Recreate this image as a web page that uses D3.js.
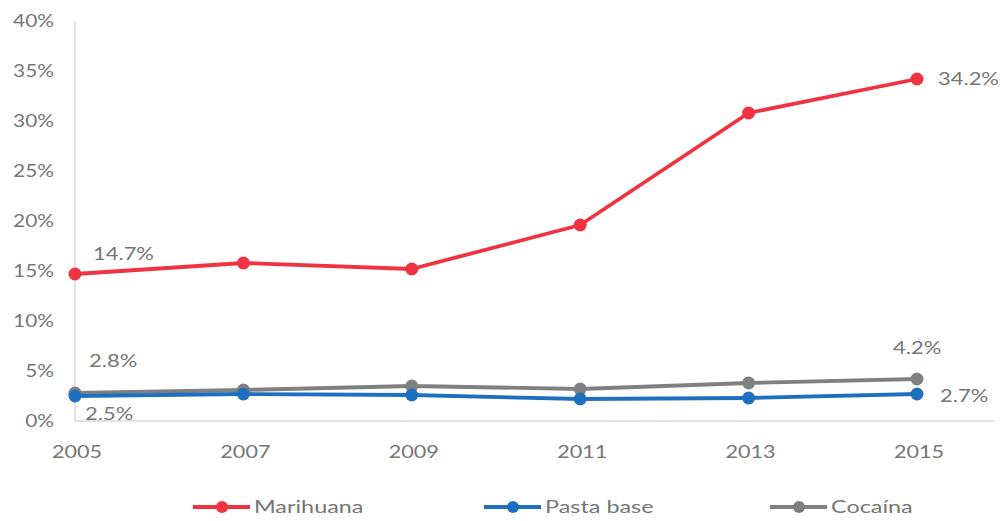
<!DOCTYPE html>
<html>
<head>
<meta charset="utf-8">
<script src="https://cdn.jsdelivr.net/npm/d3@7"></script>
<style>
  html, body { margin: 0; padding: 0; background: #fff; }
  svg { display: block; font-family: Lato, "Open Sans", sans-serif; }
</style>
</head>
<body>
<svg id="chart" width="1004" height="521"></svg>
<script>
// Survey years and prevalence (%) per substance
const years = [2005, 2007, 2009, 2011, 2013, 2015];
const marihuana = [14.7, 15.8, 15.2, 19.6, 30.8, 34.2];
const pastaBase = [2.5, 2.7, 2.6, 2.2, 2.3, 2.7];
const cocaina = [2.8, 3.1, 3.5, 3.2, 3.8, 4.2];
const yTicks = [0, 5, 10, 15, 20, 25, 30, 35, 40];
const seriesNames = ["Marihuana", "Pasta base", "Cocaína"];
const seriesColors = ["#ef3340", "#1f6fc1", "#808080"];

const series = [
  { name: seriesNames[0], values: marihuana, color: seriesColors[0] },
  { name: seriesNames[1], values: pastaBase, color: seriesColors[1] },
  { name: seriesNames[2], values: cocaina, color: seriesColors[2] }
];

const svg = d3.select("#chart");
const x = d3.scaleLinear().domain([2005, 2015]).range([75, 917]);
const y = d3.scaleLinear().domain([0, 40]).range([421, 21]);
const textColor = "#767676";
const fontSize = 18;
const stretch = 1.22;

// Place a text element at (px, py) with a slight horizontal stretch
function place(sel, px, py, sx) {
  sel.attr("x", 0).attr("y", 0)
    .attr("transform", (d, i) => `translate(${px(d, i)},${py(d, i)}) scale(${sx},1)`);
}

// Axes lines
svg.append("line").attr("x1", x(2005)).attr("x2", 995)
  .attr("y1", y(0)).attr("y2", y(0)).attr("stroke", "#d9d9d9").attr("stroke-width", 1.5);
svg.append("line").attr("x1", x(2005)).attr("x2", x(2005))
  .attr("y1", y(40)).attr("y2", y(0)).attr("stroke", "#d9d9d9").attr("stroke-width", 1.5);

// Y tick labels
svg.append("g").selectAll("text").data(yTicks).join("text")
  .attr("dy", "0.35em").attr("text-anchor", "end")
  .attr("font-size", fontSize).attr("fill", textColor)
  .text(d => d + "%")
  .call(place, () => 54, d => y(d), 1.16);

// X tick labels
svg.append("g").selectAll("text").data(years).join("text")
  .attr("dy", "0.35em").attr("text-anchor", "middle")
  .attr("font-size", fontSize).attr("fill", textColor)
  .text(d => d)
  .call(place, d => x(d) + 2, () => 452, 1.2);

const line = d3.line().x((d, i) => x(years[i])).y(d => y(d));

// Lines and markers, drawn back-to-front
[2, 1, 0].forEach(k => {
  const s = series[k];
  const g = svg.append("g");
  g.append("path").datum(s.values).attr("d", line)
    .attr("fill", "none").attr("stroke", s.color).attr("stroke-width", 3.8)
    .attr("stroke-linejoin", "round");
  g.selectAll("circle").data(s.values).join("circle")
    .attr("cx", (d, i) => x(years[i])).attr("cy", d => y(d))
    .attr("r", 6.5).attr("fill", s.color);
});

// Data labels at first and last points
const fmt = v => v.toFixed(1) + "%";
const labels = [
  { v: marihuana[0], i: 0, dx: 18, dy: -20, anchor: "start" },
  { v: marihuana[5], i: 5, dx: 21, dy: 0, anchor: "start" },
  { v: cocaina[0], i: 0, dx: 14, dy: -32, anchor: "start" },
  { v: cocaina[5], i: 5, dx: -24, dy: -31, anchor: "start" },
  { v: pastaBase[0], i: 0, dx: 10, dy: 18, anchor: "start" },
  { v: pastaBase[5], i: 5, dx: 23, dy: 2, anchor: "start" }
];
svg.append("g").selectAll("text").data(labels).join("text")
  .attr("dy", "0.35em").attr("text-anchor", d => d.anchor)
  .attr("font-size", fontSize).attr("fill", textColor)
  .text(d => fmt(d.v))
  .call(place, d => x(years[d.i]) + d.dx, d => y(d.v) + d.dy, stretch);

// Legend
const legendX = [193, 484, 770];
const lg = svg.append("g").selectAll("g").data(series).join("g")
  .attr("transform", (d, i) => `translate(${legendX[i]},507)`);
lg.append("line").attr("x1", 0).attr("x2", 57).attr("y1", 0).attr("y2", 0)
  .attr("stroke", d => d.color).attr("stroke-width", 4);
lg.append("circle").attr("cx", 29).attr("cy", 0).attr("r", 6).attr("fill", d => d.color);
lg.append("text").attr("dy", "0.35em")
  .attr("font-size", fontSize).attr("fill", textColor).text(d => d.name)
  .call(place, () => 61, () => 0, 1.3);
</script>
</body>
</html>
